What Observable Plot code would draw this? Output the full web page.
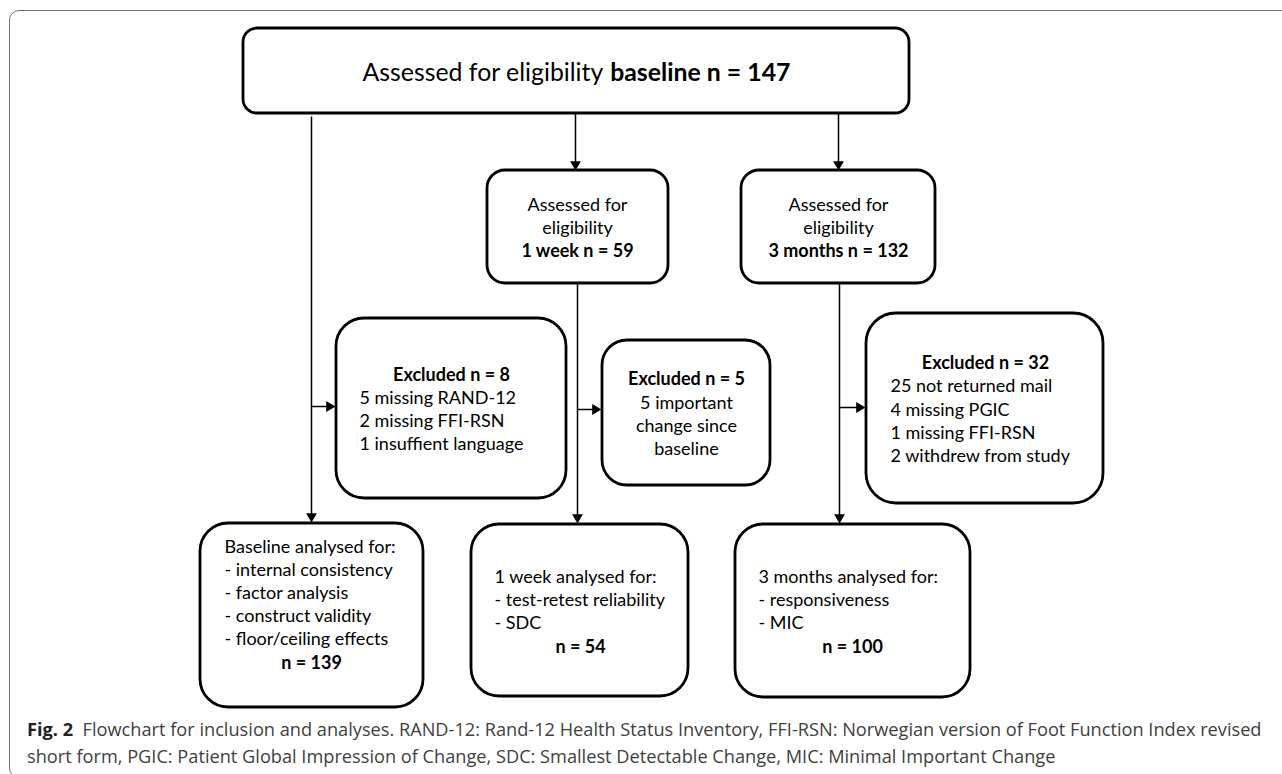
<!DOCTYPE html>
<html><head><meta charset="utf-8">
<script src="https://cdn.jsdelivr.net/npm/d3@7"></script>
<script src="https://cdn.jsdelivr.net/npm/@observablehq/plot@0.6"></script>
<style>
html,body{margin:0;padding:0;background:#fff;width:1282px;height:774px;overflow:hidden;position:relative}
#chart{position:absolute;left:0;top:0}
#frame{position:absolute;left:9px;top:10px;width:1400px;height:766px;border:1.5px solid #707070;border-radius:10px;pointer-events:none}
#caption{position:absolute;left:27px;top:716px;font-family:"Open Sans";color:#404040;line-height:27px;white-space:nowrap}
#caption b{color:#222;font-weight:700}
</style></head><body>
<div id="chart"></div>
<div id="caption"></div>
<div id="frame"></div>
<script>
// ---------- content ----------
const stages = ["baseline", "1 week", "3 months"];
const assessedN = [147, 59, 132];
const excludedN = [8, 5, 32];
const exclusionReasons = [
  ["5 missing RAND-12", "2 missing FFI-RSN", "1 insuffient language"],
  ["5 important", "change since", "baseline"],
  ["25 not returned mail", "4 missing PGIC", "1 missing FFI-RSN", "2 withdrew from study"]
];
const analysedTitles = ["Baseline analysed for:", "1 week analysed for:", "3 months analysed for:"];
const analysedItems = [
  ["- internal consistency", "- factor analysis", "- construct validity", "- floor/ceiling effects"],
  ["- test-retest reliability", "- SDC"],
  ["- responsiveness", "- MIC"]
];
const analysedN = [139, 54, 100];
const captionLabel = "Fig. 2";
const captionLines = [
  "Flowchart for inclusion and analyses. RAND-12: Rand-12 Health Status Inventory, FFI-RSN: Norwegian version of Foot Function Index revised",
  "short form, PGIC: Patient Global Impression of Change, SDC: Smallest Detectable Change, MIC: Minimal Important Change"
];

// ---------- layout (diagram geometry) ----------
const W = 1282, H = 712;
const FONT = "Lato", FS = 18, LH = 23;
const topBox = {x1: 243, x2: 909, y1: 28, y2: 113, r: 14, textY: 73, textWidth: 428};
const assessBoxes = [
  null,
  {x1: 487, x2: 668, y1: 170, y2: 283, r: 18, cx: 577, y0: 205},
  {x1: 741, x2: 935, y1: 170, y2: 283, r: 18, cx: 838, y0: 205}
];
const exclBoxes = [
  {x1: 336, x2: 566, y1: 318, y2: 498, r: 28, titleX: 451, titleY: 375, textX: 359, y0: 398, align: "start"},
  {x1: 602, x2: 770, y1: 340, y2: 485, r: 25, titleX: 686, titleY: 379, textX: 686, y0: 403, align: "middle"},
  {x1: 866, x2: 1103, y1: 313, y2: 503, r: 30, titleX: 985, titleY: 363, textX: 890, y0: 386, align: "start"}
];
const analysedBoxes = [
  {x1: 200, x2: 423, y1: 523, y2: 707, r: 28, textX: 224, y0: 547, nX: 311},
  {x1: 471, x2: 688, y1: 524, y2: 696, r: 28, textX: 494, y0: 577, nX: 580},
  {x1: 735, x2: 970, y1: 524, y2: 697, r: 28, textX: 758, y0: 577, nX: 852}
];
const connectors = [
  {x1: 575, y1: 113, x2: 575, y2: 170},
  {x1: 838, y1: 113, x2: 838, y2: 170},
  {x1: 311, y1: 116, x2: 311, y2: 522},
  {x1: 311, y1: 406, x2: 335, y2: 406},
  {x1: 577, y1: 283, x2: 577, y2: 523},
  {x1: 577, y1: 409, x2: 601, y2: 409},
  {x1: 839, y1: 283, x2: 839, y2: 523},
  {x1: 839, y1: 407, x2: 865, y2: 407}
];

// ---------- helpers ----------
const ctx = document.createElement("canvas").getContext("2d");
function measure(text, size, weight, family) {
  ctx.font = `${weight} ${size}px "${family}"`;
  return ctx.measureText(text).width;
}

// top line: regular + bold parts, fitted & centred
const topRegular = "Assessed for eligibility ";
const topBold = `${stages[0]} n = ${assessedN[0]}`;
const w0 = measure(topRegular, 22, "normal", FONT) + measure(topBold, 22, "bold", FONT);
const topFS = 22 * topBox.textWidth / w0;
const wReg = measure(topRegular, topFS, "normal", FONT);
const wBold = measure(topBold, topFS, "bold", FONT);
const topCx = (topBox.x1 + topBox.x2) / 2;
const topStart = topCx - (wReg + wBold) / 2;
const topRegRow = [{x: topStart, y: topBox.textY, t: topRegular}];
const topBoldRow = [{x: topStart + wReg, y: topBox.textY, t: topBold}];

// ---------- text rows ----------
const regularStart = [], regularMiddle = [], boldMiddle = [];
assessBoxes.forEach((b, i) => {
  if (!b) return;
  regularMiddle.push({x: b.cx, y: b.y0, t: "Assessed for"});
  regularMiddle.push({x: b.cx, y: b.y0 + LH, t: "eligibility"});
  boldMiddle.push({x: b.cx, y: b.y0 + 2 * LH, t: `${stages[i]} n = ${assessedN[i]}`});
});
exclBoxes.forEach((b, i) => {
  boldMiddle.push({x: b.titleX, y: b.titleY, t: `Excluded n = ${excludedN[i]}`});
  const step = i === 2 ? 23.3 : LH;
  exclusionReasons[i].forEach((t, j) => {
    (b.align === "start" ? regularStart : regularMiddle).push({x: b.textX, y: b.y0 + j * step, t});
  });
});
analysedBoxes.forEach((b, i) => {
  const rows = [analysedTitles[i], ...analysedItems[i]];
  rows.forEach((t, j) => regularStart.push({x: b.textX, y: b.y0 + j * LH, t}));
  boldMiddle.push({x: b.nX, y: b.y0 + rows.length * LH + 1, t: `n = ${analysedN[i]}`});
});

// arrowheads
const HEAD = 6.2;
const heads = connectors.map(c => {
  const dx = c.x2 - c.x1, dy = c.y2 - c.y1, L = Math.hypot(dx, dy);
  const ux = dx / L, uy = dy / L;
  return {x: c.x2 - ux * HEAD, y: c.y2 - uy * HEAD, rot: Math.atan2(ux, -uy) * 180 / Math.PI};
});
const links = connectors.map((c, i) => ({x1: c.x1, y1: c.y1, x2: heads[i].x, y2: heads[i].y}));

const allBoxes = [topBox, ...assessBoxes.filter(Boolean), ...exclBoxes, ...analysedBoxes];
const txt = (data, anchor, weight, size) => Plot.text(data, {
  x: "x", y: "y", text: "t", textAnchor: anchor, lineAnchor: "middle",
  fontSize: size, fontFamily: FONT, fontWeight: weight, fill: "black"
});

const plot = Plot.plot({
  width: W, height: H, margin: 0,
  x: {domain: [0, W], range: [0, W], axis: null},
  y: {domain: [0, H], range: [0, H], axis: null},
  style: {background: "transparent", overflow: "visible"},
  marks: [
    Plot.link(links, {x1: "x1", y1: "y1", x2: "x2", y2: "y2", stroke: "black", strokeWidth: 1.5}),
    ...allBoxes.map(b => Plot.rect([b], {x1: "x1", x2: "x2", y1: "y1", y2: "y2", rx: b.r, fill: "white", stroke: "black", strokeWidth: 2.8})),
    Plot.dot(heads, {x: "x", y: "y", rotate: "rot", symbol: "triangle", r: 4, fill: "black", stroke: "none"}),
    txt(regularStart, "start", "normal", FS),
    txt(regularMiddle, "middle", "normal", FS),
    txt(boldMiddle, "middle", "bold", FS),
    txt(topRegRow, "start", "normal", topFS),
    txt(topBoldRow, "start", "bold", topFS)
  ]
});
document.getElementById("chart").appendChild(plot);

// ---------- caption ----------
const capFamily = "Open Sans";
const cw = measure(captionLabel + "  ", 16, "bold", capFamily) + measure(captionLines[0], 16, "normal", capFamily);
const capFS = 16 * 1235 / cw;
const cap = document.getElementById("caption");
cap.style.fontSize = capFS + "px";
cap.innerHTML = `<b>${captionLabel}</b>&nbsp;&nbsp;${captionLines[0]}<br>${captionLines[1]}`;
</script></body></html>
